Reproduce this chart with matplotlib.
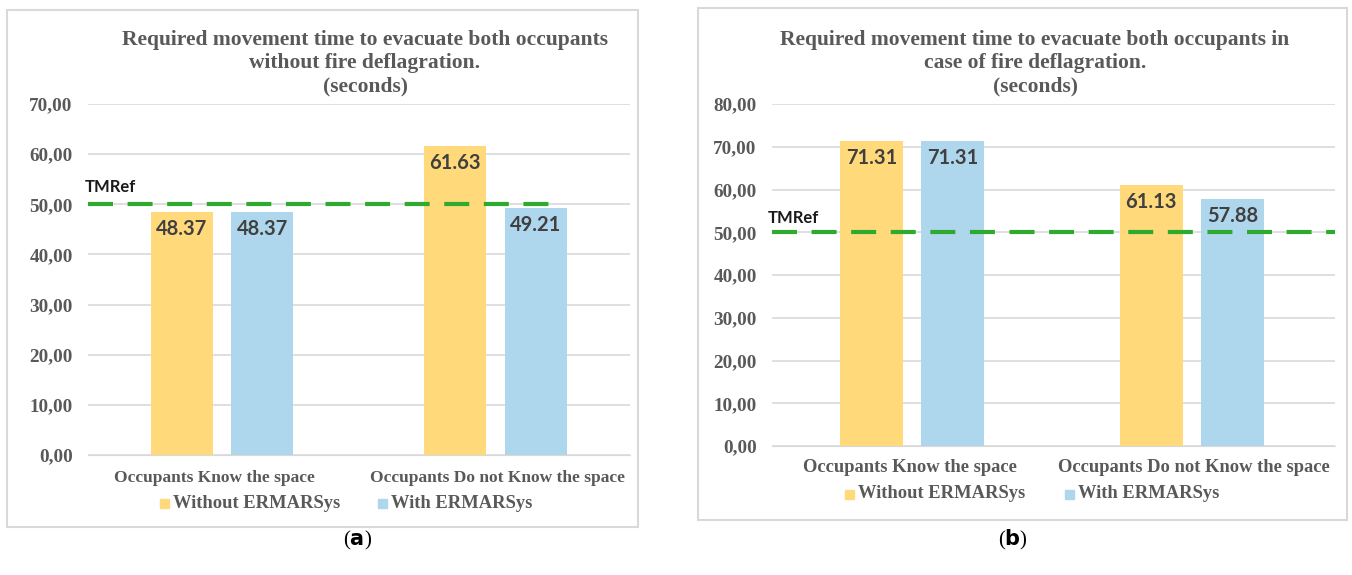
import matplotlib.pyplot as plt
from matplotlib.patches import Rectangle

categories = ['Occupants Know the space', 'Occupants Do not Know the space']
series = ['Without ERMARSys', 'With ERMARSys']
vals_a_without = [48.37, 61.63]
vals_a_with = [48.37, 49.21]
vals_b_without = [71.31, 61.13]
vals_b_with = [71.31, 57.88]
tmref = 50.0
titles = ['Required movement time to evacuate both occupants\nwithout fire deflagration.\n(seconds)',
          'Required movement time to evacuate both occupants in\ncase of fire deflagration.\n(seconds)']
ymax = [70, 80]
panel_tags = ['a', 'b']

W, H = 1352, 575
col_y = '#FFD97A'
col_b = '#AED6EC'
grey = '#595959'
serif = 'Liberation Serif'

fig = plt.figure(figsize=(W / 100, H / 100), dpi=100)

def px(x0, y0, x1, y1):
    # pixel box (top-left origin) -> figure fraction
    return [x0 / W, 1 - y1 / H, (x1 - x0) / W, (y1 - y0) / H]

# panel frames
for box in [(7, 10, 638, 527), (698, 8, 1347, 520)]:
    fig.add_artist(Rectangle((box[0] / W, 1 - box[3] / H), (box[2] - box[0]) / W, (box[3] - box[1]) / H,
                             transform=fig.transFigure, fill=False, edgecolor='#d9d9d9', lw=1.5))

setup = [
    dict(ax=(88, 104, 630, 455), xlim=(-0.491, 1.494), off=0.148, w=0.227, dash_end=0.87,
         title_x=365, cat_y=478, cat_x=(214, 497), cat_fs=12.5, leg_y=503, leg_x=(160, 378),
         tm=(85, 187), tag=(358, 540), vw=vals_a_without, vv=vals_a_with),
    dict(ax=(772, 104, 1335, 446), xlim=(-0.5, 1.511), off=0.145, w=0.225, dash_end=1.0,
         title_x=1035, cat_y=468, cat_x=(910, 1194), cat_fs=13.3, leg_y=494, leg_x=(845, 1065),
         tm=(768, 218), tag=(1013, 540), vw=vals_b_without, vv=vals_b_with),
]

for i, s in enumerate(setup):
    ax = fig.add_axes(px(*s['ax']))
    x = [0, 1]
    b1 = ax.bar([p - s['off'] for p in x], s['vw'], s['w'], color=col_y, zorder=2)
    b2 = ax.bar([p + s['off'] for p in x], s['vv'], s['w'], color=col_b, zorder=2)
    for bars, vals in [(b1, s['vw']), (b2, s['vv'])]:
        for r, v in zip(bars, vals):
            ax.annotate(f'{v:.2f}', (r.get_x() + r.get_width() / 2, v), xytext=(0, -5),
                        textcoords='offset points', ha='center', va='top',
                        fontsize=14.5, fontweight='bold', family='Lato', color='#404040', zorder=3)
    ax.axhline(tmref, xmin=0, xmax=s['dash_end'], color='#2EAA2E', lw=3, ls=(0, (6, 3.5)), zorder=4)
    ax.set_xlim(*s['xlim'])
    ax.set_ylim(0, ymax[i])
    ax.set_yticks(range(0, ymax[i] + 1, 10))
    ax.set_yticklabels([f'{t},00' for t in range(0, ymax[i] + 1, 10)], family=serif,
                       fontweight='bold', fontsize=13.8, color=grey)
    ax.set_xticks([])
    ax.grid(axis='y', color='#d9d9d9', lw=1.2, zorder=0)
    for sp in ['top', 'right', 'left']:
        ax.spines[sp].set_visible(False)
    ax.spines['bottom'].set_color('#d9d9d9')
    ax.tick_params(axis='y', length=0, pad=11)

    fig.text(s['title_x'] / W, 1 - 30 / H, titles[i], ha='center', va='top', family=serif,
             fontweight='bold', fontsize=15.5, color=grey, linespacing=1.22)
    for cx, cat in zip(s['cat_x'], categories):
        fig.text(cx / W, 1 - s['cat_y'] / H, cat, ha='center', va='center', family=serif,
                 fontweight='bold', fontsize=s['cat_fs'], color=grey)
    for lx, lab, col in zip(s['leg_x'], series, [col_y, col_b]):
        fig.add_artist(Rectangle((lx / W, 1 - (s['leg_y'] + 5) / H), 9 / W, 9 / H,
                                 transform=fig.transFigure, color=col))
        fig.text((lx + 13) / W, 1 - s['leg_y'] / H, lab, ha='left', va='center', family=serif,
                 fontweight='bold', fontsize=13.3, color=grey)
    fig.text(s['tm'][0] / W, 1 - s['tm'][1] / H, 'TMRef', ha='left', va='center', family='Lato',
             fontweight='bold', fontsize=12, color='#1a1a1a')
    fig.text(s['tag'][0] / W, 1 - s['tag'][1] / H, '(' + r'$\mathbf{' + panel_tags[i] + '}$' + ')',
             ha='center', va='center', family=serif, fontsize=15, color='black')

fig.savefig('out.png', dpi=100, facecolor='white')
